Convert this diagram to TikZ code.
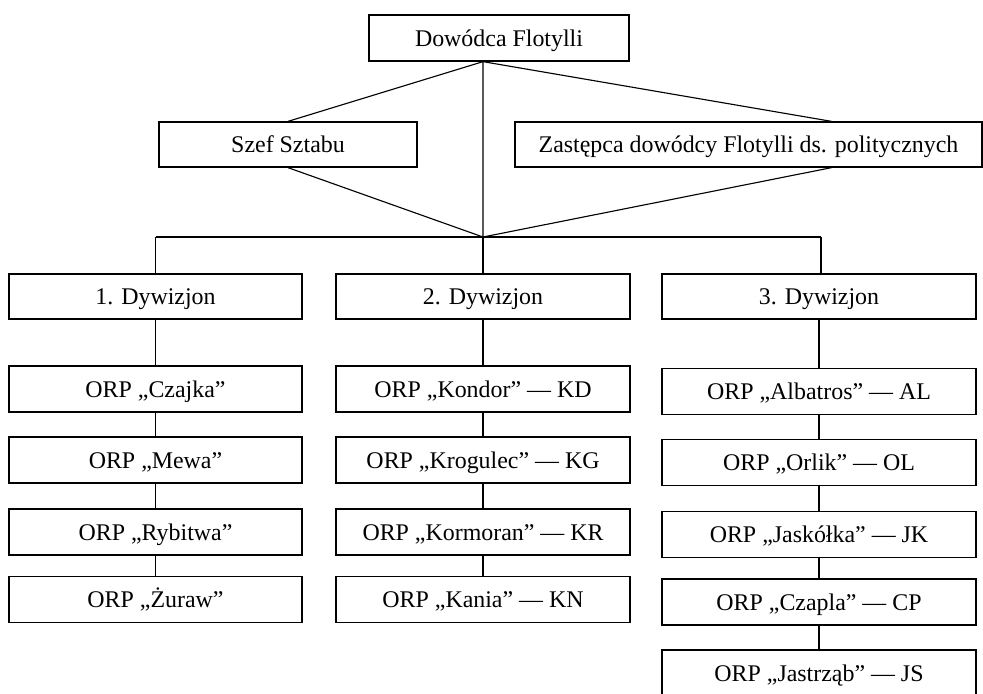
\documentclass[tikz,border=0pt]{standalone}
\usepackage{fontspec}
\setmainfont{Liberation Serif}
\usetikzlibrary{positioning,calc}
\tikzset{
  unit/.style={draw, line width=0.9pt, inner sep=0pt, minimum height=1.15cm, text height=16pt, text depth=4pt, font=\fontsize{17}{20}\selectfont},
  link/.style={line width=0.8pt},
  bus/.style={line width=1.8pt}
}
\begin{document}
\begin{tikzpicture}[x=0.025cm, y=-0.025cm]
  \useasboundingbox (0,0) rectangle (983,693);

  % Command
  \node[unit, minimum width=6.5cm] (dow) at (499,38) {Dowódca Flotylli};
  \node[unit, minimum width=6.45cm, minimum height=1.125cm] (szef) at (288,144.5) {Szef Sztabu};
  \node[unit, minimum width=11.675cm, minimum height=1.125cm] (zast) at (748.5,144.5) {Zastępca dowódcy Flotylli ds. politycznych};
  \coordinate (dowb) at ([xshift=-0.4cm]dow.south);
  \coordinate (zastt) at ([xshift=2.075cm]zast.north);
  \coordinate (zastb) at ([xshift=2.075cm]zast.south);
  \coordinate (hub) at (483,237);

  \draw[link] (dowb) -- (szef.north);
  \draw[link] (dowb) -- (zastt);
  \draw[link] (dowb) -- (hub);
  \draw[link] (szef.south) -- (hub);
  \draw[link] (zastb) -- (hub);

  % Squadrons
  \node[unit, minimum width=7.325cm, minimum height=1.125cm] (dyw1) at (155.5,296.5) {1. Dywizjon};
  \node[unit, minimum width=7.35cm, minimum height=1.125cm] (dyw2) at (483,296.5) {2. Dywizjon};
  \node[unit, minimum width=7.85cm, minimum height=1.125cm] (dyw3) at (819,296.5) {3. Dywizjon};
  \coordinate (bus1) at (dyw1.north |- hub);
  \coordinate (bus3) at ([xshift=0.05cm]dyw3.north |- hub);

  \draw[bus] (bus1) -- (bus3);
  \draw[link] (bus1) -- (dyw1.north);
  \draw[link] (hub) -- (dyw2.north);
  \draw[link] (bus3) -- ([xshift=0.05cm]dyw3.north);

  % 1. Dywizjon
  \node[unit, minimum width=7.325cm] (czajka) at (155.5,389) {ORP „Czajka”};
  \node[unit, minimum width=7.325cm] (mewa) at (155.5,460) {ORP „Mewa”};
  \node[unit, minimum width=7.325cm] (rybitwa) at (155.5,532) {ORP „Rybitwa”};
  \node[unit, minimum width=7.325cm] (zuraw) at (155.5,599.5) {ORP „Żuraw”};
  \draw[link] (dyw1) -- (czajka) -- (mewa) -- (rybitwa) -- (zuraw);

  % 2. Dywizjon
  \node[unit, minimum width=7.35cm] (kondor) at (483,389) {ORP „Kondor” — KD};
  \node[unit, minimum width=7.35cm] (krogulec) at (483,460) {ORP „Krogulec” — KG};
  \node[unit, minimum width=7.35cm] (kormoran) at (483,532) {ORP „Kormoran” — KR};
  \node[unit, minimum width=7.35cm] (kania) at (483,599.5) {ORP „Kania” — KN};
  \draw[link] (dyw2) -- (kondor) -- (krogulec) -- (kormoran) -- (kania);

  % 3. Dywizjon
  \node[unit, minimum width=7.85cm] (albatros) at (819,391.5) {ORP „Albatros” — AL};
  \node[unit, minimum width=7.85cm] (orlik) at (819,462.5) {ORP „Orlik” — OL};
  \node[unit, minimum width=7.85cm] (jaskolka) at (819,534.5) {ORP „Jaskółka” — JK};
  \node[unit, minimum width=7.85cm] (czapla) at (819,602) {ORP „Czapla” — CP};
  \node[unit, minimum width=7.85cm] (jastrzab) at (819,673) {ORP „Jastrząb” — JS};
  \draw[link] (dyw3) -- (albatros) -- (orlik) -- (jaskolka) -- (czapla) -- (jastrzab);
\end{tikzpicture}
\end{document}
